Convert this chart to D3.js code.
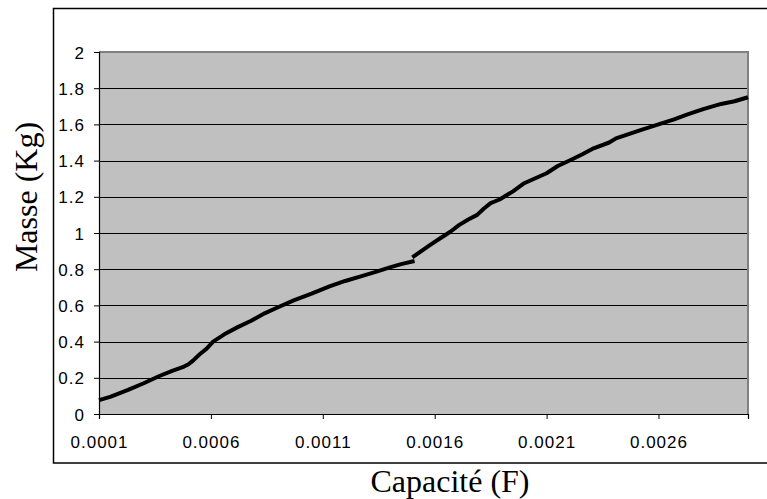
<!DOCTYPE html>
<html>
<head>
<meta charset="utf-8">
<script src="https://cdn.jsdelivr.net/npm/d3@7"></script>
<style>
html,body{margin:0;padding:0;background:#fff;}
svg{display:block;}
</style>
</head>
<body>
<svg id="chart" width="767" height="499"></svg>
<script>
// ---- data ----
const capaciteSeg1 = [0.0001,0.00015,0.00023,0.0003,0.00037,0.00043,0.00048,0.0005,0.00052,0.00055,0.00058,0.00061,0.00066,0.00072,0.00078,0.00084,0.0009,0.00097,0.00105,0.00113,0.0012,0.00127,0.00134,0.0014,0.00145,0.00151];
const masseSeg1    = [0.077,0.095,0.133,0.17,0.21,0.24,0.262,0.275,0.295,0.33,0.36,0.40,0.44,0.48,0.515,0.556,0.59,0.628,0.665,0.705,0.735,0.76,0.787,0.81,0.828,0.845];
const capaciteSeg2 = [0.0015,0.00154,0.00158,0.00163,0.00167,0.00171,0.00175,0.00179,0.00182,0.00185,0.00189,0.00195,0.002,0.0021,0.00215,0.00221,0.00226,0.00231,0.00238,0.00241,0.00247,0.00253,0.0026,0.00267,0.00273,0.0028,0.00288,0.00294,0.003];
const masseSeg2    = [0.865,0.9,0.934,0.975,1.007,1.045,1.075,1.10,1.135,1.165,1.185,1.23,1.275,1.33,1.37,1.405,1.435,1.468,1.50,1.523,1.548,1.573,1.60,1.628,1.655,1.684,1.713,1.728,1.75];
const xTicks = [0.0001,0.0006,0.0011,0.0016,0.0021,0.0026];
const xTickLabels = ["0.0001","0.0006","0.0011","0.0016","0.0021","0.0026"];
const yTicks = [0,0.2,0.4,0.6,0.8,1,1.2,1.4,1.6,1.8,2];
const yTickLabels = ["0","0.2","0.4","0.6","0.8","1","1.2","1.4","1.6","1.8","2"];
const xTitle = "Capacité (F)";
const yTitle = "Masse (Kg)";

// ---- layout ----
const svg = d3.select("#chart");
const plot = {left: 99, top: 52, right: 748, bottom: 414};

const x = d3.scaleLinear().domain([0.0001, 0.0030]).range([plot.left, plot.right]);
const y = d3.scaleLinear().domain([0, 2]).range([plot.bottom, plot.top]);

// outer chart frame
svg.append("rect")
  .attr("x", 53.5).attr("y", 8.5)
  .attr("width", 767 - 53.5 + 5).attr("height", 463 - 8.5)
  .attr("fill", "#fff").attr("stroke", "#000").attr("stroke-width", 1.5);

// plot area
svg.append("rect")
  .attr("x", plot.left).attr("y", plot.top)
  .attr("width", plot.right - plot.left).attr("height", plot.bottom - plot.top)
  .attr("fill", "#c0c0c0");

// gridlines
svg.append("g").selectAll("line")
  .data(yTicks.filter(d => d > 0 && d < 2))
  .join("line")
  .attr("x1", plot.left).attr("x2", plot.right)
  .attr("y1", d => Math.round(y(d)) + 0.5).attr("y2", d => Math.round(y(d)) + 0.5)
  .attr("stroke", "#000").attr("stroke-width", 1);

// plot border (top & right grey)
svg.append("path")
  .attr("d", `M${plot.left},${plot.top}H${plot.right}V${plot.bottom}`)
  .attr("fill", "none").attr("stroke", "#808080").attr("stroke-width", 2);

// axes
const fontTick = "'Liberation Sans', Arial, sans-serif";
const yAxis = d3.axisLeft(y).tickValues(yTicks)
  .tickFormat((d, i) => yTickLabels[i]).tickSize(5).tickPadding(9);
const gy = svg.append("g").attr("transform", `translate(${plot.left},0)`).call(yAxis);
gy.select(".domain").attr("stroke", "#000").attr("stroke-width", 1.2);
gy.selectAll(".tick line").attr("stroke", "#000");
gy.selectAll(".tick text")
  .attr("font-family", fontTick).attr("font-size", 17)
  .attr("letter-spacing", "1px").attr("fill", "#000")
  .attr("dy", "0.36em");

const xAxis = d3.axisBottom(x).tickValues(xTicks)
  .tickFormat((d, i) => xTickLabels[i]).tickSize(5).tickPadding(17);
const gx = svg.append("g").attr("transform", `translate(0,${plot.bottom})`).call(xAxis);
gx.select(".domain").attr("stroke", "#000").attr("stroke-width", 1.2);
gx.selectAll(".tick line").attr("stroke", "#000");
gx.selectAll(".tick text")
  .attr("font-family", fontTick).attr("font-size", 17)
  .attr("letter-spacing", "1px").attr("fill", "#000");

// curve
const line = d3.line().x(d => x(d[0])).y(d => y(d[1]));
const seg1 = capaciteSeg1.map((c, i) => [c, masseSeg1[i]]);
const seg2 = capaciteSeg2.map((c, i) => [c, masseSeg2[i]]);
[seg1, seg2].forEach(seg => {
  svg.append("path").datum(seg)
    .attr("d", line)
    .attr("fill", "none").attr("stroke", "#000")
    .attr("stroke-width", 4).attr("stroke-linejoin", "round");
});

// titles
const fontTitle = "'Liberation Serif', 'Times New Roman', serif";
svg.append("text")
  .attr("x", 450).attr("y", 492)
  .attr("text-anchor", "middle")
  .attr("font-family", fontTitle).attr("font-size", 32)
  .attr("fill", "#000").text(xTitle);

svg.append("text")
  .attr("transform", "translate(37,197) rotate(-90)")
  .attr("text-anchor", "middle")
  .attr("font-family", fontTitle).attr("font-size", 32)
  .attr("fill", "#000").text(yTitle);
</script>
</body>
</html>
